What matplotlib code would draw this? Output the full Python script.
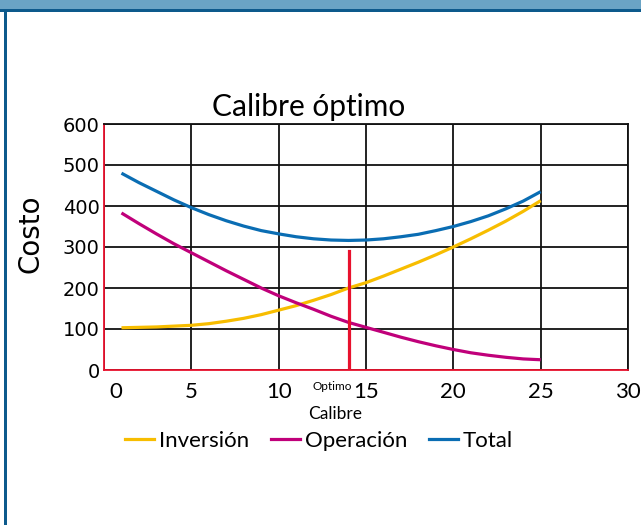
import numpy as np
import matplotlib
matplotlib.use("Agg")
import matplotlib.pyplot as plt
import matplotlib.transforms as mtransforms
from matplotlib.patches import Rectangle
from matplotlib.lines import Line2D

# calibre values and the three cost curves
calibre = [1, 2, 3, 4, 5, 6, 7, 8, 9, 10, 11, 12, 13, 14, 15,
           16, 17, 18, 19, 20, 21, 22, 23, 24, 25]
inversion = [103, 104, 105, 107, 109, 113, 119, 126, 135, 146, 157, 170, 184,
             200, 213, 229, 246, 263, 281, 300, 320, 341, 363, 387, 413]
operacion = [383, 357, 332, 308, 286, 264, 242, 221, 200, 181, 164, 148, 131,
             116, 104, 92, 80, 69, 59, 50, 42, 36, 31, 27, 25]
total = [480, 457, 436, 415, 396, 379, 364, 351, 340, 332, 325, 320, 317,
         316, 317, 320, 325, 331, 340, 350, 362, 376, 393, 412, 435]

optimo = 14
optimo_top = 290

xticks = [0, 5, 10, 15, 20, 25, 30]
yticks = [0, 100, 200, 300, 400, 500, 600]

c_inv = "#f7bd00"
c_op = "#c0007a"
c_tot = "#0a6db3"
c_red = "#e8112d"

W, H = 641, 525
fig = plt.figure(figsize=(W / 100, H / 100), dpi=100)
fig.patch.set_facecolor("white")

# frame: header band, dark rule and left border
fig.patches.append(Rectangle((0, 1 - 9 / H), 1, 9 / H, transform=fig.transFigure,
                             facecolor="#6aa4c5", edgecolor="none", zorder=0))
fig.patches.append(Rectangle((0, 1 - 11.5 / H), 1, 2.5 / H, transform=fig.transFigure,
                             facecolor="#0d5a8c", edgecolor="none", zorder=0))
fig.patches.append(Rectangle((4 / W, 0), 2.5 / W, 1 - 9 / H, transform=fig.transFigure,
                             facecolor="#0d5a8c", edgecolor="none", zorder=0))

ax_l, ax_r, ax_t, ax_b = 104, 628, 124, 370
ax = fig.add_axes([ax_l / W, (H - ax_b) / H, (ax_r - ax_l) / W, (ax_b - ax_t) / H])
ax.set_xlim(0, 30)
ax.set_ylim(0, 600)

ax.plot(calibre, inversion, color=c_inv, lw=2.3, solid_capstyle="butt", zorder=3)
ax.plot(calibre, operacion, color=c_op, lw=2.3, solid_capstyle="butt", zorder=3)
ax.plot(calibre, total, color=c_tot, lw=2.3, solid_capstyle="butt", zorder=3)
ax.plot([optimo, optimo], [0, optimo_top], color=c_red, lw=2.3, zorder=4)

ax.set_xticks(xticks)
ax.set_yticks(yticks)
ax.grid(True, color="#111111", lw=1.3)
ax.set_axisbelow(True)
ax.tick_params(length=0)
ax.tick_params(axis="x", pad=9)
ax.tick_params(axis="y", pad=3)
ax.set_xticklabels([str(v) for v in xticks], fontsize=16, family="Lato")
ax.set_yticklabels([str(v) for v in yticks], fontsize=14, family="DejaVu Sans")

# the "0" label sits a bit right of the corner
lbl0 = ax.get_xticklabels()[0]
lbl0.set_transform(lbl0.get_transform() +
                   mtransforms.ScaledTranslation(12 / 100, 0, fig.dpi_scale_trans))

for s in ["top", "right"]:
    ax.spines[s].set_color("#111111")
    ax.spines[s].set_linewidth(1.3)
for s in ["left", "bottom"]:
    ax.spines[s].set_color(c_red)
    ax.spines[s].set_linewidth(1.3)

ax.set_title("Calibre óptimo", fontsize=21.5, family="Lato", pad=6,
             x=(309 - ax_l) / (ax_r - ax_l))
ax.set_ylabel("Costo", fontsize=20, family="DejaVu Sans")
ax.yaxis.set_label_coords(-(ax_l - 45) / (ax_r - ax_l), (ax_b - 234) / (ax_b - ax_t))
ax.set_xlabel("Calibre", fontsize=12.5, family="Lato")
ax.xaxis.set_label_coords((335 - ax_l) / (ax_r - ax_l), -(414 - ax_b) / (ax_b - ax_t))
ax.xaxis.label.set_va("center")

ax.text((352 - ax_l) / (ax_r - ax_l), -(386 - ax_b) / (ax_b - ax_t), "Optimo",
        transform=ax.transAxes, fontsize=8.5, family="Lato",
        ha="right", va="center", clip_on=False)

handles = [Line2D([], [], color=c_inv, lw=2.3),
           Line2D([], [], color=c_op, lw=2.3),
           Line2D([], [], color=c_tot, lw=2.3)]
fig.legend(handles, ["Inversión", "Operación", "Total"], loc="center",
           bbox_to_anchor=(319 / W, 1 - 441 / H), ncol=3, frameon=False,
           prop={"family": "Lato", "size": 16}, handlelength=1.3,
           handletextpad=0.22, columnspacing=1.0)

fig.savefig("out.png", dpi=100)
